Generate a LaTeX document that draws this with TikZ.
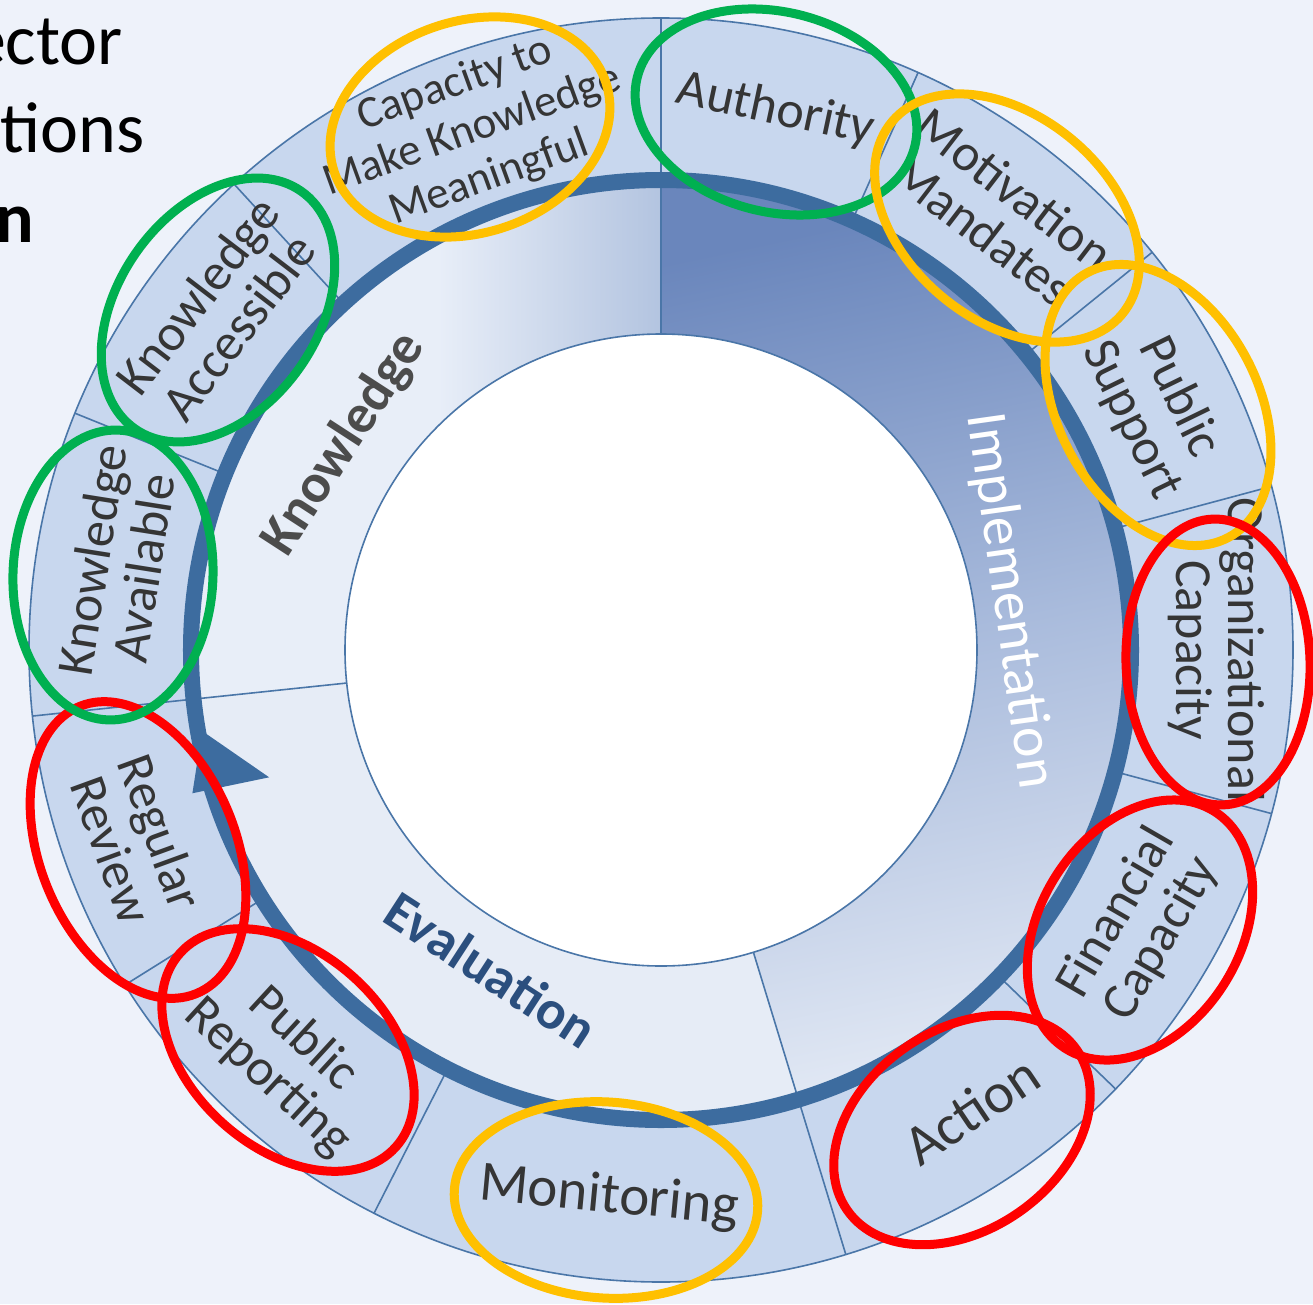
\documentclass[tikz,border=0pt]{standalone}
\usepackage{fontspec}
\setmainfont{Carlito}
\usetikzlibrary{shapes}

\definecolor{bgcol}{HTML}{EEF2FA}
\definecolor{segfill}{HTML}{C8D7EE}
\definecolor{lineblue}{HTML}{4A76A8}
\definecolor{arrowblue}{HTML}{3D6C9F}
\definecolor{knowA}{HTML}{E8EEF8}
\definecolor{knowB}{HTML}{B3C4E0}
\definecolor{implA}{HTML}{6A86BC}
\definecolor{implB}{HTML}{A9BBDC}
\definecolor{implC}{HTML}{E1E8F4}
\definecolor{evalfill}{HTML}{E6ECF6}
\definecolor{labelgrey}{HTML}{353535}
\definecolor{knowtext}{HTML}{4C4C4C}
\definecolor{evaltext}{HTML}{2B4F7E}
\definecolor{ringgreen}{HTML}{00B050}
\definecolor{ringgold}{HTML}{FFC000}
\definecolor{ringred}{HTML}{FF0000}

\pgfdeclarehorizontalshading{knowshade}{100bp}{color(0bp)=(knowA); color(25bp)=(knowA); color(52bp)=(knowA); color(75bp)=(knowB); color(100bp)=(knowB)}
\pgfdeclareverticalshading{implshade}{100bp}{color(0bp)=(implC); color(25bp)=(implC); color(50bp)=(implB); color(75bp)=(implA); color(100bp)=(implA)}

\tikzset{
	seglabel/.style={text=labelgrey, align=center, inner sep=0pt, font=\fontsize{52}{52}\selectfont},
	seclabel/.style={align=center, inner sep=0pt, font=\fontsize{55}{55}\selectfont\bfseries},
	segline/.style={draw=lineblue, line width=1.6pt},
	greenring/.style={draw=ringgreen, line width=9pt},
	goldring/.style={draw=ringgold, line width=9pt},
	redring/.style={draw=ringred, line width=9pt}
}

\begin{document}
\begin{tikzpicture}[x=1pt,y=1pt]
	\useasboundingbox (-661,-654) rectangle (652,650);
	\clip (-661,-654) rectangle (652,650);
	\fill [bgcol] (-661,-654) rectangle (652,650);
	% outer ring of factors
	\fill [segfill] (0,0) circle [radius=632pt];
	\draw [segline] (0,0) circle [radius=632pt];
	% the three stages
	\shade [shading=knowshade] (90:316pt) arc [start angle=90, end angle=186, radius=316pt]
		-- (186:470pt) arc [start angle=186, end angle=90, radius=470pt] -- cycle;
	\shade [shading=implshade, shading angle=12] (90:316pt) arc [start angle=90, end angle=-73, radius=316pt]
		-- (-73:470pt) arc [start angle=-73, end angle=90, radius=470pt] -- cycle;
	\fill [evalfill] (-73:316pt) arc [start angle=-73, end angle=-174, radius=316pt]
		-- (-174:470pt) arc [start angle=-174, end angle=-73, radius=470pt] -- cycle;
	\foreach \a in {90,-73,186}
		\draw [segline] (\a:316pt) -- (\a:470pt);
	\foreach \a in {90,66,39,15,-15,-44,-73,-117,-148,-174,158,132.5}
		\draw [segline] (\a:470pt) -- (\a:632pt);
	\draw [segline, fill=white] (0,0) circle [radius=316pt];
	% cycle arrow
	\draw [arrowblue, line width=16pt] (0,0) circle [radius=470pt];
	\fill [arrowblue] (190:466pt) -- (197:490pt) -- (198:412pt) -- cycle;
	% factor labels
	\node (capacity) [seglabel, rotate=20, font=\fontsize{45}{50}\selectfont] at (110:552pt) {Capacity to\\Make Knowledge\\Meaningful};
	\node (authority) [seglabel, rotate=-12] at (78:552pt) {Authority};
	\node (motivation) [seglabel, rotate=-37.5] at (52.5:555pt) {Motivation\\Mandates};
	\node (pubsupport) [seglabel, rotate=-64] at (26:550pt) {Public\\Support};
	\node (orgcap) [seglabel, rotate=-90] at (0:555pt) {Organizational\\Capacity};
	\node (fincap) [seglabel, rotate=60] at (-30:552pt) {Financial\\Capacity};
	\node (action) [seglabel, rotate=34, font=\fontsize{57}{57}\selectfont] at (-56:555pt) {Action};
	\node (monitoring) [seglabel, rotate=-5.4, font=\fontsize{57}{57}\selectfont] at (-95.4:550pt) {Monitoring};
	\node (pubreport) [seglabel, rotate=-42.6] at (-132.6:555pt) {Public\\Reporting};
	\node (review) [seglabel, rotate=-70] at (-160:558pt) {Regular\\Review};
	\node (available) [seglabel, rotate=81] at (171:550pt) {Knowledge\\Available};
	\node (accessible) [seglabel, rotate=52.6] at (142.6:558pt) {Knowledge\\Accessible};
	% stage labels
	\node (knowledge) [seclabel, text=knowtext, rotate=57] at (147:378pt) {Knowledge};
	\node (implementation) [seclabel, text=white, rotate=-82, font=\fontsize{58}{58}\selectfont] at (8:352pt) {Implementation};
	\node (evaluation) [seclabel, text=evaltext, rotate=-33] at (-118:362pt) {Evaluation};
	% slide text cut at the left
	\node (lineA) [anchor=base east, inner sep=0pt, font=\fontsize{72}{72}\selectfont] at (-538,585) {ector};
	\node (lineB) [anchor=base east, inner sep=0pt, font=\fontsize{72}{72}\selectfont] at (-516,497) {tions};
	\node (lineC) [anchor=base east, inner sep=0pt, font=\fontsize{72}{72}\selectfont\bfseries] at (-627,407) {n};
	% highlight rings
	\draw [goldring] (-191,523) circle [x radius=143pt, y radius=106pt, rotate=18];
	\draw [greenring] (115,538) circle [x radius=143pt, y radius=100pt, rotate=-14];
	\draw [goldring] (346,432) circle [x radius=150pt, y radius=102pt, rotate=-40];
	\draw [goldring] (497,245) circle [x radius=150pt, y radius=100pt, rotate=-62];
	\draw [redring] (557,-12) circle [x radius=143pt, y radius=92pt, rotate=-88];
	\draw [redring] (479,-280) circle [x radius=140pt, y radius=100pt, rotate=58];
	\draw [redring] (301,-480) circle [x radius=140pt, y radius=100pt, rotate=35];
	\draw [goldring] (-55,-550) circle [x radius=152pt, y radius=98pt, rotate=-4];
	\draw [redring] (-373,-400) circle [x radius=145pt, y radius=98pt, rotate=-42];
	\draw [redring] (-523,-200) circle [x radius=155pt, y radius=98pt, rotate=-68];
	\draw [greenring] (-548,75) circle [x radius=145pt, y radius=100pt, rotate=88];
	\draw [greenring] (-443,340) circle [x radius=145pt, y radius=100pt, rotate=55];
\end{tikzpicture}
\end{document}
